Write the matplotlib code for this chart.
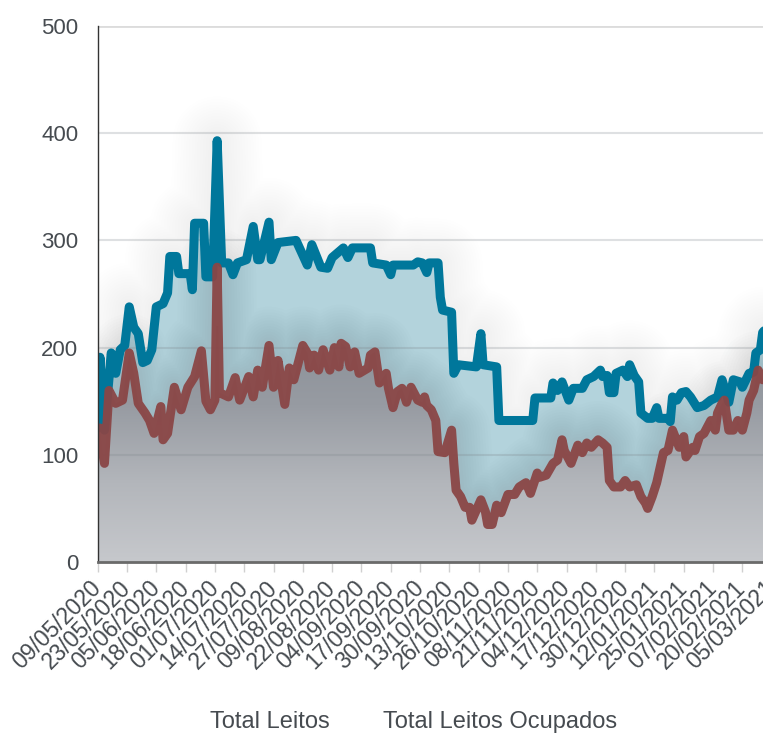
import matplotlib.pyplot as plt
import numpy as np
from matplotlib.colors import LinearSegmentedColormap

plt.rcParams['font.family'] = ['Liberation Sans', 'DejaVu Sans']

# x axis labels (one label every 13 points)
labels = ['09/05/2020', '23/05/2020', '05/06/2020', '18/06/2020', '01/07/2020',
          '14/07/2020', '27/07/2020', '09/08/2020', '22/08/2020', '04/09/2020',
          '17/09/2020', '30/09/2020', '13/10/2020', '26/10/2020', '08/11/2020',
          '21/11/2020', '04/12/2020', '17/12/2020', '30/12/2020', '12/01/2021',
          '25/01/2021', '07/02/2021', '20/02/2021', '05/03/2021']

# Total Leitos (point index, value)
dia_leitos = [0, 1, 3, 6, 8, 10, 12, 14, 16, 18, 20, 22, 24, 26, 29, 31, 32, 35, 36,
              41, 42, 43, 47, 48, 51, 53, 55, 58, 60, 62, 66, 69, 71, 72, 76, 77, 80,
              88, 93, 95, 99, 102, 104, 109, 111, 113, 121, 122, 128, 130, 131, 140,
              142, 144, 146, 147, 151, 152, 153, 157, 158, 160, 168, 170, 171, 177,
              178, 193, 194, 201, 202, 204, 206, 209, 211, 215, 217, 220, 223, 224,
              226, 227, 229, 230, 233, 235, 236, 238, 240, 241, 244, 246, 248, 249,
              253, 254, 255, 257, 259, 261, 263, 266, 269, 272, 275, 277, 280, 282,
              285, 286, 289, 291, 292, 294, 295, 298, 300]
total_leitos = [125, 191, 123, 195, 176, 198, 202, 238, 219, 213, 186, 188, 198, 238,
                241, 251, 285, 285, 269, 269, 254, 316, 316, 266, 266, 393, 279, 279,
                268, 279, 282, 313, 282, 282, 317, 282, 298, 300, 277, 296, 275, 274,
                284, 293, 284, 293, 293, 279, 277, 268, 277, 277, 280, 279, 270, 279,
                279, 247, 235, 233, 176, 184, 182, 213, 184, 182, 132, 132, 153, 153,
                167, 160, 168, 151, 162, 162, 170, 173, 179, 173, 174, 158, 158, 176,
                179, 173, 184, 174, 168, 139, 134, 134, 144, 134, 134, 131, 154, 151,
                158, 159, 154, 144, 146, 151, 154, 170, 149, 170, 168, 163, 176, 177,
                195, 198, 214, 222, 226]

# Total Leitos Ocupados (point index, value)
dia_ocupados = [0, 1, 2, 3, 5, 8, 11, 14, 16, 18, 21, 23, 25, 28, 29, 31, 34, 37, 40,
                43, 46, 48, 50, 52, 53, 54, 58, 61, 63, 67, 69, 71, 73, 76, 78, 80, 83,
                85, 87, 91, 93, 94, 96, 98, 100, 103, 105, 107, 108, 110, 112, 114,
                116, 120, 121, 123, 125, 128, 129, 131, 133, 135, 137, 139, 142, 144,
                145, 146, 148, 150, 151, 154, 157, 158, 159, 161, 163, 165, 166, 170,
                172, 173, 175, 177, 179, 182, 185, 187, 190, 192, 195, 196, 199, 202,
                204, 206, 207, 210, 213, 215, 217, 219, 222, 224, 226, 227, 229, 232,
                234, 236, 239, 241, 243, 244, 246, 248, 251, 253, 255, 258, 260, 261,
                264, 265, 267, 269, 272, 274, 275, 277, 278, 280, 282, 284, 286, 288,
                289, 291, 293, 295, 298, 300]
total_ocupados = [111, 125, 105, 92, 160, 148, 151, 195, 176, 148, 139, 132, 120, 145,
                  114, 120, 163, 142, 163, 173, 197, 150, 142, 151, 275, 158, 154, 172,
                  151, 173, 154, 179, 163, 202, 163, 188, 147, 181, 170, 202, 195, 181,
                  193, 179, 198, 179, 200, 182, 204, 201, 182, 196, 176, 181, 193, 196,
                  167, 176, 162, 144, 159, 162, 149, 163, 151, 149, 154, 146, 142, 132,
                  103, 102, 123, 92, 67, 61, 51, 51, 39, 58, 47, 35, 35, 53, 46, 63, 63,
                  70, 74, 64, 83, 79, 81, 92, 95, 114, 104, 92, 109, 102, 111, 107, 114,
                  111, 107, 76, 70, 70, 76, 70, 72, 61, 55, 50, 61, 74, 102, 104, 123,
                  107, 117, 98, 107, 104, 117, 120, 132, 123, 139, 148, 151, 123, 123,
                  132, 123, 139, 151, 160, 179, 170, 180, 182]

tick_pos = [13 * k for k in range(len(labels))]

fig = plt.figure(figsize=(7.63, 7.39), dpi=100)
px_per_pt = 2.254
xmax = 310
ax = fig.add_axes([97.7 / 763, (739 - 562) / 739, xmax * px_per_pt / 763, 536 / 739])
ax.set_xlim(0, xmax)
ax.set_ylim(0, 500)

blue = '#00779b'
red = '#8a4646'

# soft shadow around the blue area (many faint strokes -> smooth blur)
for w in range(64, 8, -4):
    ax.plot(dia_leitos, total_leitos, color='#70757b', lw=w, alpha=0.0055,
            solid_joinstyle='round', solid_capstyle='round', zorder=1)

ax.fill_between(dia_leitos, total_leitos, 0, color='#b3d3dc', lw=0, zorder=2)

# shadow of the red area onto the blue area
for w in range(56, 8, -4):
    ax.plot(dia_ocupados, total_ocupados, color='#4d545c', lw=w, alpha=0.012,
            solid_joinstyle='round', solid_capstyle='round', zorder=3)

# gray gradient under the red line
fill_red = ax.fill_between(dia_ocupados, total_ocupados, 0, color='none', lw=0, zorder=4)
cmap = LinearSegmentedColormap.from_list('g', ['#c6c8cc', '#b3b6bb', '#979ba2', '#8a8f97'])
grad = np.linspace(0, 1, 256).reshape(-1, 1)
im = ax.imshow(grad, extent=[0, xmax, 0, 220], origin='lower', aspect='auto',
               cmap=cmap, zorder=4)
im.set_clip_path(fill_red.get_paths()[0], transform=ax.transData)

# grid
for v in range(100, 501, 100):
    ax.axhline(v, color='#7f868c', lw=1.5, alpha=0.25, zorder=5)
ax.axhline(500, color='#dcdcdc', lw=2, zorder=5)

ax.plot(dia_leitos, total_leitos, color=blue, lw=6.5, solid_joinstyle='round',
        solid_capstyle='round', zorder=6)
ax.plot(dia_ocupados, total_ocupados, color=red, lw=6.5, alpha=0.95,
        solid_joinstyle='round', solid_capstyle='round', zorder=7)

for s in ['top', 'right']:
    ax.spines[s].set_visible(False)
ax.spines['left'].set_color('#333333')
ax.spines['left'].set_linewidth(1)
ax.spines['bottom'].set_color('#6a6a6a')
ax.spines['bottom'].set_linewidth(2)
ax.spines['left'].set_zorder(8)
ax.spines['bottom'].set_zorder(8)

ax.set_yticks(range(0, 501, 100))
ax.tick_params(axis='y', length=0, pad=14, labelsize=16, labelcolor='#464b50')
ax.set_xticks(tick_pos)
ax.set_xticklabels(labels, rotation=45, ha='right', va='center',
                   rotation_mode='anchor')
ax.tick_params(axis='x', length=7, width=1, color='#d0d0d0', pad=9,
               labelsize=16.5, labelcolor='#464b50')
ax.set_facecolor('white')

fig.text(270 / 763, 1 - 722 / 739, 'Total Leitos', ha='center', va='center',
         fontsize=17, color='#464b50')
fig.text(500 / 763, 1 - 722 / 739, 'Total Leitos Ocupados', ha='center', va='center',
         fontsize=17, color='#464b50')

fig.savefig('out.png', dpi=100)
